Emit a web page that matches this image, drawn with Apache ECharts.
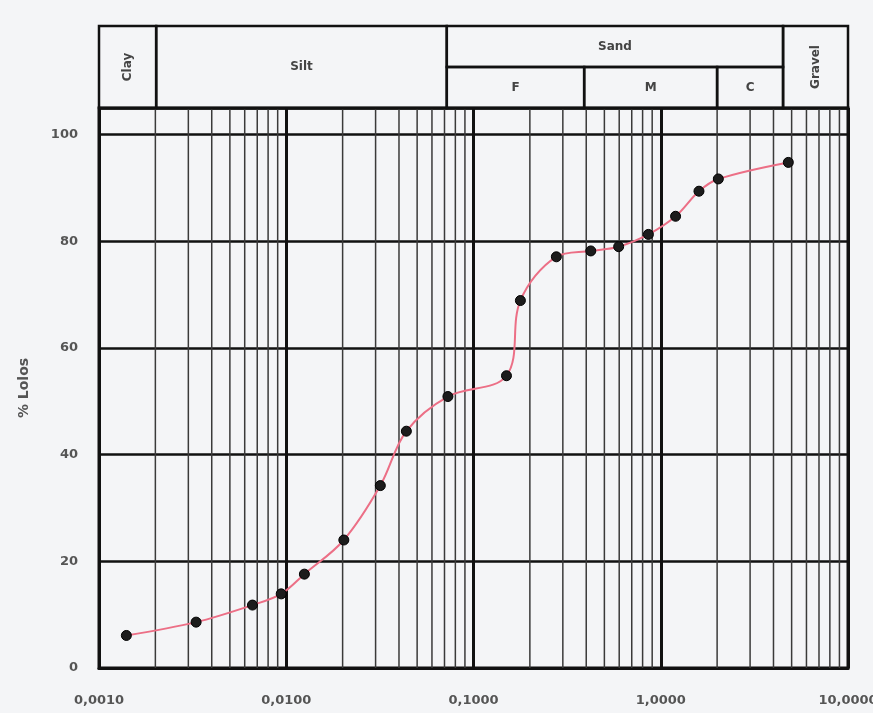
<!DOCTYPE html>
<html>
<head>
<meta charset="utf-8">
<script src="https://cdn.jsdelivr.net/npm/echarts@6/dist/echarts.min.js"></script>
<style>
html,body{margin:0;padding:0;background:#f4f5f7;}
#chart{width:873px;height:713px;}
</style>
</head>
<body>
<div id="chart"></div>
<script>
// Grain size (mm) and percent passing
const grainSize = [0.0014, 0.0033, 0.0066, 0.0094, 0.0125, 0.0203, 0.0318, 0.0438, 0.073,
                   0.15, 0.178, 0.277, 0.423, 0.596, 0.859, 1.2, 1.6, 2.03, 4.8];
const percentPassing = [6.1, 8.6, 11.8, 13.9, 17.6, 24.0, 34.2, 44.4, 50.9,
                        54.8, 68.9, 77.1, 78.2, 79.0, 81.3, 84.7, 89.4, 91.7, 94.8];

// Soil classification header
const zoneNames  = ['Clay', 'Silt', 'Sand', 'F', 'M', 'C', 'Gravel'];
const zoneFrom   = [0.001, 0.00202, 0.072, 0.072, 0.39, 2.0, 4.5];
const zoneTo     = [0.00202, 0.072, 4.5, 0.39, 2.0, 4.5, 10];
const zoneRowLo  = [0, 0, 1, 0, 0, 0, 0];
const zoneRowHi  = [2, 2, 2, 1, 1, 1, 2];
const zoneVertical = [true, false, false, false, false, false, true];

// Axis settings
const xMin = 0.001, xMax = 10;
const yMin = 0, yMax = 105;
const yTicks = [0, 20, 40, 60, 80, 100];
const yAxisName = '% Lolos';

// Log-scale minor grid positions (2..9 of each decade)
const minorGrid = [];
for (let d = -3; d < 1; d++) {
  for (let k = 2; k <= 9; k++) minorGrid.push([k * Math.pow(10, d)]);
}

const headerData = zoneNames.map((n, i) => [zoneFrom[i], zoneTo[i], zoneRowLo[i], zoneRowHi[i], n, zoneVertical[i] ? 1 : 0]);

const chart = echarts.init(document.getElementById('chart'), null, { renderer: 'canvas' });
const labelFont = { color: '#555', fontSize: 13, fontWeight: 'bold', fontFamily: '"DejaVu Sans", sans-serif' };

chart.setOption({
  backgroundColor: '#f4f5f7',
  animation: false,
  grid: [
    { left: 99, right: 25, top: 108, bottom: 45, containLabel: false, outerBoundsMode: 'none',
      show: true, borderColor: '#111', borderWidth: 3, backgroundColor: 'transparent' },
    { left: 99, right: 25, top: 26, height: 82, containLabel: false, outerBoundsMode: 'none', show: false }
  ],
  xAxis: [
    {
      type: 'log', logBase: 10, min: xMin, max: xMax, gridIndex: 0,
      axisLine: { show: true, lineStyle: { color: '#111', width: 3 } },
      axisTick: { show: false },
      splitLine: { show: true, lineStyle: { color: '#111', width: 3 } },
      axisLabel: Object.assign({ margin: 26, formatter: v => Number(v).toFixed(4).replace('.', ',') }, labelFont)
    },
    { type: 'log', logBase: 10, min: xMin, max: xMax, gridIndex: 1, show: false }
  ],
  yAxis: [
    {
      type: 'value', min: yMin, max: yMax, interval: 20, gridIndex: 0,
      name: yAxisName, nameLocation: 'middle', nameGap: 68, nameRotate: 90,
      nameTextStyle: Object.assign({}, labelFont, { fontSize: 14 }),
      axisLine: { show: true, lineStyle: { color: '#111', width: 3 } },
      axisTick: { show: false },
      splitLine: { show: true, lineStyle: { color: '#111', width: 2.5 } },
      axisLabel: Object.assign({ margin: 21, showMaxLabel: false, formatter: v => (yTicks.indexOf(v) >= 0 ? String(v) : '') }, labelFont)
    },
    { type: 'value', min: 0, max: 2, gridIndex: 1, show: false }
  ],
  series: [
    {
      type: 'custom', xAxisIndex: 0, yAxisIndex: 0, silent: true, z: 1,
      data: minorGrid,
      encode: { x: 0 },
      renderItem: function (params, api) {
        const a = api.coord([api.value(0), yMin]);
        const b = api.coord([api.value(0), yMax]);
        return { type: 'line', shape: { x1: a[0], y1: a[1], x2: b[0], y2: b[1] },
                 style: { stroke: '#3a3a3a', lineWidth: 1.5 } };
      }
    },
    {
      type: 'line', xAxisIndex: 0, yAxisIndex: 0,
      data: grainSize.map((x, i) => [x, percentPassing[i]]),
      smooth: 0.35,
      symbol: 'circle', symbolSize: 10,
      lineStyle: { color: '#ec6f86', width: 2 },
      itemStyle: { color: '#1c1c1c', borderColor: '#000', borderWidth: 1 },
      z: 5
    },
    {
      type: 'custom', xAxisIndex: 1, yAxisIndex: 1,
      data: headerData,
      encode: { x: [0, 1], y: [2, 3] },
      renderItem: function (params, api) {
        const p0 = api.coord([api.value(0), api.value(3)]);
        const p1 = api.coord([api.value(1), api.value(2)]);
        const vertical = api.value(5) === 1;
        return {
          type: 'group',
          children: [
            { type: 'rect', shape: { x: p0[0], y: p0[1], width: p1[0] - p0[0], height: p1[1] - p0[1] },
              style: { fill: 'transparent', stroke: '#111', lineWidth: 2.5 } },
            { type: 'text', x: (p0[0] + p1[0]) / 2, y: (p0[1] + p1[1]) / 2, rotation: vertical ? Math.PI / 2 : 0,
              style: { text: api.value(4), align: 'center', verticalAlign: 'middle',
                       font: 'bold 12px "DejaVu Sans", sans-serif', fill: '#444' } }
          ]
        };
      }
    }
  ]
});
</script>
</body>
</html>
